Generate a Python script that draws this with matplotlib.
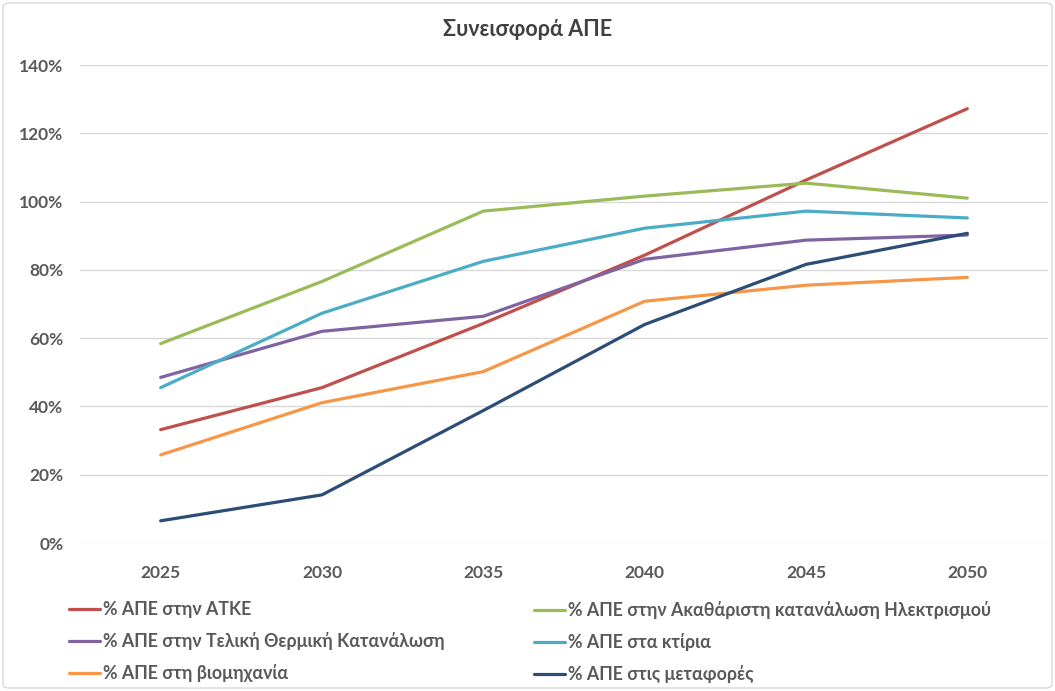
import matplotlib
matplotlib.use("Agg")
import matplotlib.pyplot as plt
from matplotlib.patches import FancyBboxPatch

plt.rcParams['font.family'] = ['Lato', 'DejaVu Sans']

years = ["2025", "2030", "2035", "2040", "2045", "2050"]

ape_atke = [33.2, 45.5, 64.3, 84.3, 106.3, 127.2]
ape_elec = [58.4, 76.6, 97.2, 101.6, 105.4, 101.0]
ape_therm = [48.5, 62.0, 66.4, 83.1, 88.7, 90.2]
ape_build = [45.5, 67.3, 82.5, 92.2, 97.2, 95.2]
ape_ind = [25.8, 41.1, 50.2, 70.8, 75.5, 77.8]
ape_transp = [6.5, 14.1, 38.8, 64.0, 81.6, 90.7]

labels = [
    "% ΑΠΕ στην ΑΤΚΕ",
    "% ΑΠΕ στην Ακαθάριστη κατανάλωση Ηλεκτρισμού",
    "% ΑΠΕ στην Τελική Θερμική Κατανάλωση",
    "% ΑΠΕ στα κτίρια",
    "% ΑΠΕ στη βιομηχανία",
    "% ΑΠΕ στις μεταφορές",
]
colors = ["#C0504D", "#9BBB59", "#8064A2", "#4BACC6", "#F79646", "#2C4D75"]
series = [ape_atke, ape_elec, ape_therm, ape_build, ape_ind, ape_transp]

txt = "#595959"

fig = plt.figure(figsize=(10.55, 6.91), dpi=100)
ax = fig.add_axes([80 / 1055, 1 - 543 / 691, 968 / 1055, 478 / 691])

xs = list(range(len(years)))
lines = []
for vals, c, lab in zip(series, colors, labels):
    ln, = ax.plot(xs, vals, color=c, lw=2.3, label=lab, solid_capstyle="round", zorder=3)
    lines.append(ln)

ax.set_xlim(-0.5, len(years) - 0.5)
ax.set_ylim(0, 140)
ax.set_yticks(range(0, 141, 20))
ax.set_yticklabels([f"{v}%" for v in range(0, 141, 20)])
ax.set_xticks(xs)
ax.set_xticklabels(years)
ax.grid(axis="y", color="#D9D9D9", lw=1)
ax.set_axisbelow(True)
for s in ax.spines.values():
    s.set_visible(False)
ax.tick_params(length=0, colors=txt, labelsize=12.5)
ax.tick_params(axis="x", pad=16)
ax.tick_params(axis="y", pad=12)
for t in ax.get_xticklabels() + ax.get_yticklabels():
    t.set_fontweight("bold")

fig.text(0.5, 1 - 29 / 691, "Συνεισφορά ΑΠΕ", ha="center", va="center",
         fontsize=15.5, color="#404040", fontweight="bold")

leg_kw = dict(frameon=False, handlelength=1.75, handletextpad=0.15,
              labelspacing=0.78, borderaxespad=0, labelcolor=txt,
              prop={"weight": "bold", "size": 12.8})
leg1 = fig.legend([lines[0], lines[2], lines[4]], [labels[0], labels[2], labels[4]],
                  loc="upper left", bbox_to_anchor=(62 / 1055, 1 - 594 / 691), **leg_kw)
leg2 = fig.legend([lines[1], lines[3], lines[5]], [labels[1], labels[3], labels[5]],
                  loc="upper left", bbox_to_anchor=(527 / 1055, 1 - 594 / 691), **leg_kw)

border = FancyBboxPatch((3 / 1055, 3 / 691), 1 - 6 / 1055, 1 - 6 / 691,
                        boxstyle="round,pad=0,rounding_size=0.006",
                        transform=fig.transFigure, fill=False,
                        edgecolor="#D9D9D9", lw=1)
fig.patches.append(border)

fig.savefig("out.png", dpi=100)
